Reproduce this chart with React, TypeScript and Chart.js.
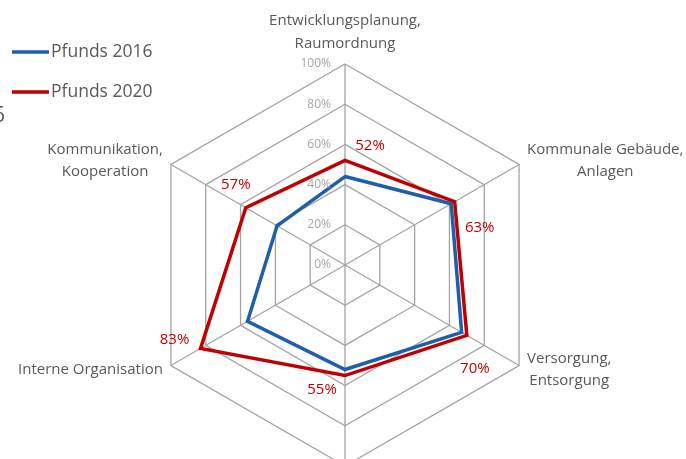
import React, { useEffect, useRef } from "react";
import { Chart, registerables } from "chart.js";

Chart.register(...registerables);

const CATEGORIES: string[][] = [
  ["Entwicklungsplanung,", "Raumordnung"],
  ["Kommunale Gebäude,", "Anlagen"],
  ["Versorgung,", "Entsorgung"],
  [""],
  ["Interne Organisation"],
  ["Kommunikation,", "Kooperation"],
];
const SERIES_NAMES = ["Pfunds 2016", "Pfunds 2020"];
const SERIES_2016 = [44, 61, 67, 52, 56, 39];
const SERIES_2020 = [52, 63, 70, 55, 83, 57];
const TICK_VALUES = [0, 20, 40, 60, 80, 100];
const TICK_LABELS = ["0%", "20%", "40%", "60%", "80%", "100%"];
const DATA_LABEL_OFFSETS = [
  [25, -15],
  [25, 26],
  [8, 33],
  [-23, 14],
  [-26, -9],
  [-10, -23],
];

const BLUE = "#1f5ea8";
const RED = "#c00000";
const GRID = "#a3a3a3";
const TEXT = "#595959";
const FONT = "'Open Sans', 'Noto Sans', sans-serif";

const overlayPlugin = {
  id: "overlay",
  afterDatasetsDraw(chart: any) {
    const ctx = chart.ctx;
    const scale = chart.scales.r;
    const cx = scale.xCenter;
    const cy = scale.yCenter;
    ctx.save();

    // tick labels
    ctx.font = `12px ${FONT}`;
    ctx.fillStyle = "#a6a6a6";
    ctx.textAlign = "right";
    ctx.textBaseline = "middle";
    TICK_VALUES.forEach((v, i) => {
      const d = scale.getDistanceFromCenterForValue(v);
      ctx.fillText(TICK_LABELS[i], cx - 14, cy - d);
    });

    // category labels
    ctx.font = `15px ${FONT}`;
    ctx.fillStyle = TEXT;
    ctx.textBaseline = "middle";
    ctx.textAlign = "center";
    CATEGORIES.forEach((lines, i) => {
      const p = scale.getPointPosition(i, scale.drawingArea);
      const dx = p.x - cx;
      const dy = p.y - cy;
      const lh = 22;
      if (Math.abs(dx) < 1) {
        if (dy < 0) {
          const lastY = p.y - 20;
          lines.forEach((t, k) => {
            ctx.fillText(t, p.x, lastY - (lines.length - 1 - k) * 23);
          });
        } else {
          lines.forEach((t, k) => {
            ctx.fillText(t, p.x, p.y + 20 + k * 23);
          });
        }
        return;
      }
      const maxW = Math.max(...lines.map((t) => ctx.measureText(t).width));
      const centerX = dx > 0 ? p.x + 8 + maxW / 2 : p.x - 8 - maxW / 2;
      const centerY = p.y + (dy < 0 ? -4 : 4);
      const top = centerY - ((lines.length - 1) * lh) / 2;
      lines.forEach((t, k) => {
        ctx.fillText(t, centerX, top + k * lh);
      });
    });

    // data labels for 2020 series
    const meta = chart.getDatasetMeta(1);
    ctx.font = `15px ${FONT}`;
    ctx.fillStyle = RED;
    ctx.textAlign = "center";
    ctx.textBaseline = "middle";
    meta.data.forEach((pt: any, i: number) => {
      const [ox, oy] = DATA_LABEL_OFFSETS[i];
      ctx.fillText(`${SERIES_2020[i]}%`, pt.x + ox, pt.y + oy);
    });

    // legend
    const legendColors = [BLUE, RED];
    const legendY = [52, 92];
    ctx.font = `17.5px ${FONT}`;
    ctx.textAlign = "left";
    ctx.textBaseline = "middle";
    SERIES_NAMES.forEach((name, i) => {
      ctx.strokeStyle = legendColors[i];
      ctx.lineWidth = 3.5;
      ctx.beginPath();
      ctx.moveTo(12, legendY[i]);
      ctx.lineTo(49, legendY[i]);
      ctx.stroke();
      ctx.fillStyle = TEXT;
      ctx.fillText(name, 51, legendY[i]);
    });

    // cropped fragment at left edge
    ctx.font = `21px ${FONT}`;
    ctx.fillStyle = TEXT;
    ctx.textAlign = "right";
    ctx.fillText("6", 5, 116);

    ctx.restore();
  },
};

export default function App() {
  const canvasRef = useRef<HTMLCanvasElement | null>(null);

  useEffect(() => {
    if (!canvasRef.current) return;
    const chart = new Chart(canvasRef.current, {
      type: "radar",
      data: {
        labels: CATEGORIES,
        datasets: [
          {
            label: SERIES_NAMES[0],
            data: SERIES_2016,
            borderColor: BLUE,
            backgroundColor: "transparent",
            borderWidth: 3.5,
            pointRadius: 0,
            fill: false,
            borderJoinStyle: "miter",
            order: 1,
          },
          {
            label: SERIES_NAMES[1],
            data: SERIES_2020,
            borderColor: RED,
            backgroundColor: "transparent",
            borderWidth: 3.5,
            pointRadius: 0,
            fill: false,
            borderJoinStyle: "miter",
            order: 0,
          },
        ],
      },
      options: {
        animation: false,
        responsive: false,
        maintainAspectRatio: false,
        devicePixelRatio: 1,
        layout: { padding: { left: 4, right: 0, top: 64, bottom: 64 } },
        plugins: {
          legend: { display: false },
          tooltip: { enabled: false },
        },
        scales: {
          r: {
            min: 0,
            max: 100,
            ticks: { stepSize: 20, display: false },
            pointLabels: { display: false },
            grid: { color: GRID, lineWidth: 1.3, circular: false },
            angleLines: { color: GRID, lineWidth: 1.3 },
          },
        },
      } as any,
      plugins: [overlayPlugin],
    });
    return () => chart.destroy();
  }, []);

  return (
    <div
      style={{
        position: "fixed",
        left: 0,
        top: 0,
        width: 686,
        height: 459,
        overflow: "hidden",
        background: "#fff",
      }}
    >
      <canvas ref={canvasRef} width={686} height={530} style={{ display: "block", width: 686, height: 530 }} />
    </div>
  );
}
